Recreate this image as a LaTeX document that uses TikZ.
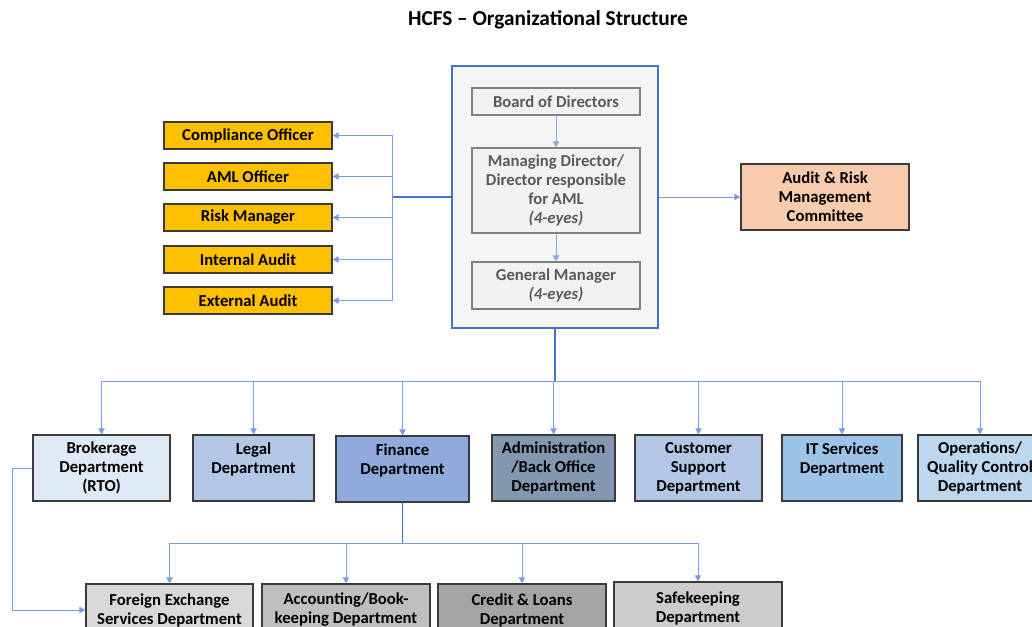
\documentclass[tikz,border=0pt]{standalone}
\usepackage{fontspec}
\setmainfont{Carlito}
\usetikzlibrary{arrows.meta}

\definecolor{linkblue}{HTML}{4472C4}
\definecolor{lightlink}{HTML}{7C9DDB}
\definecolor{corefill}{HTML}{F5F5F5}
\definecolor{boardfill}{HTML}{F2F2F2}
\definecolor{boardtext}{HTML}{595959}
\definecolor{boardline}{HTML}{808080}
\definecolor{officerfill}{HTML}{FFC000}
\definecolor{committeefill}{HTML}{F8CBAD}
\definecolor{boxline}{HTML}{3A3A3A}
\definecolor{brokfill}{HTML}{DEEBF7}
\definecolor{legalfill}{HTML}{B4C7E7}
\definecolor{finfill}{HTML}{8FAADC}
\definecolor{adminfill}{HTML}{8497B0}
\definecolor{itfill}{HTML}{9DC3E6}
\definecolor{opsfill}{HTML}{BDD7EE}
\definecolor{fxfill}{HTML}{D9D9D9}
\definecolor{accfill}{HTML}{BFBFBF}
\definecolor{creditfill}{HTML}{A5A5A5}
\definecolor{safefill}{HTML}{CCCCCC}

\begin{document}
\begin{tikzpicture}[x=1pt, y=-1pt,
	font=\fontsize{16.7}{19}\selectfont\bfseries,
	boardbox/.style={draw=boardline, fill=boardfill, text=boardtext, line width=1.2pt, minimum width=168pt, inner sep=0pt, align=center},
	officer/.style={draw=boxline, fill=officerfill, line width=1.3pt, minimum width=168pt, minimum height=27pt, inner sep=0pt},
	dept/.style={draw=boxline, line width=1.3pt, minimum height=66pt, inner sep=0pt, align=center},
	unit/.style={draw=boxline, line width=1.3pt, minimum height=52pt, minimum width=168pt, inner sep=0pt, align=center},
	link/.style={draw=lightlink, line width=0.9pt},
	tip/.style={-{Triangle[length=6pt,width=6.5pt]}, link}]
				\useasboundingbox (0,0) rectangle (1032,626);
				\clip (0,0) rectangle (1032,626);

				\node[font=\fontsize{21.3}{24}\selectfont\bfseries] (title) at (548,20) {HCFS -- Organizational Structure};

				% management block
				\node[draw=linkblue, fill=corefill, line width=1.5pt, minimum width=206pt, minimum height=262pt] (core) at (555,197) {};
				\node[boardbox, minimum height=27pt] (board) at (556,101.5) {Board of Directors};
				\node[boardbox, minimum height=85pt] (md) at (556,190.5) {Managing Director/\\Director responsible\\for AML\\\textit{(4-eyes)}};
				\node[boardbox, minimum height=47pt] (gm) at (556,285.5) {General Manager\\\textit{(4-eyes)}};
				\draw[tip, draw=finfill] (board) -- (md);
				\draw[tip, draw=finfill] (md) -- (gm);

				% control functions
				\node[officer] (comp) at (248,135.5) {Compliance Officer};
				\node[officer] (aml) at (248,176.5) {AML Officer};
				\node[officer] (risk) at (248,217.5) {Risk Manager};
				\node[officer] (intaudit) at (248,259.5) {Internal Audit};
				\node[officer] (extaudit) at (248,300.5) {External Audit};
				\node[draw=boxline, fill=committeefill, line width=1.3pt, minimum width=168pt, minimum height=66pt, align=center, inner sep=0pt] (armc) at (825,197) {Audit \& Risk\\Management\\Committee};

				\coordinate (lbus) at (392,197);
				\draw[link, draw=linkblue, line width=1.2pt] (core.west) -- (lbus);
				\foreach \o in {comp,aml,risk,intaudit,extaudit}
					\draw[tip] (lbus) |- (\o.east);
				\draw[tip] (core.east) -- (armc.west);

				% departments
				\node[dept, fill=brokfill, minimum width=137pt] (brok) at (101.5,468) {Brokerage\\Department\\(RTO)};
				\node[dept, fill=legalfill, minimum width=121pt] (legal) at (253.5,468) {Legal\\Department\\\phantom{D}};
				\node[dept, fill=finfill, minimum width=133pt] (fin) at (402.5,469) {Finance\\Department\\\phantom{D}};
				\node[dept, fill=adminfill, minimum width=123pt] (admin) at (553.5,468) {Administration\\/Back Office\\Department};
				\node[dept, fill=legalfill, minimum width=127pt] (cust) at (698.5,468) {Customer\\Support\\Department};
				\node[dept, fill=itfill, minimum width=120pt] (itserv) at (842,468) {IT Services\\Department\\\phantom{D}};
				\node[dept, fill=opsfill, minimum width=124pt] (ops) at (980,468) {Operations/\\Quality Control\\Department};

				\coordinate (hub) at (555,381);
				\draw[link, draw=linkblue, line width=1.5pt] (core.south) -- (hub);
				\foreach \d in {brok,legal,fin,admin,cust,itserv,ops}
					\draw[tip] (hub) -| (\d.north);

				% finance units
				\node[unit, fill=fxfill, minimum width=167pt] (fx) at (169.5,610) {Foreign Exchange\\Services Department};
				\node[unit, fill=accfill] (acc) at (346,610) {Accounting/Book-\\keeping Department};
				\node[unit, fill=creditfill] (credit) at (522,610) {Credit \& Loans\\Department};
				\node[unit, fill=safefill] (safe) at (698,608) {Safekeeping\\Department};

				\coordinate (fhub) at (402.5,543);
				\draw[link, draw=linkblue] (fin.south) -- (fhub);
				\foreach \u in {fx,acc,credit,safe}
					\draw[tip] (fhub) -| (\u.north);
				\coordinate (bturn) at (12,468);
				\draw[tip] (brok.west) -- (bturn) |- (fx.west);
			\end{tikzpicture}
\end{document}
